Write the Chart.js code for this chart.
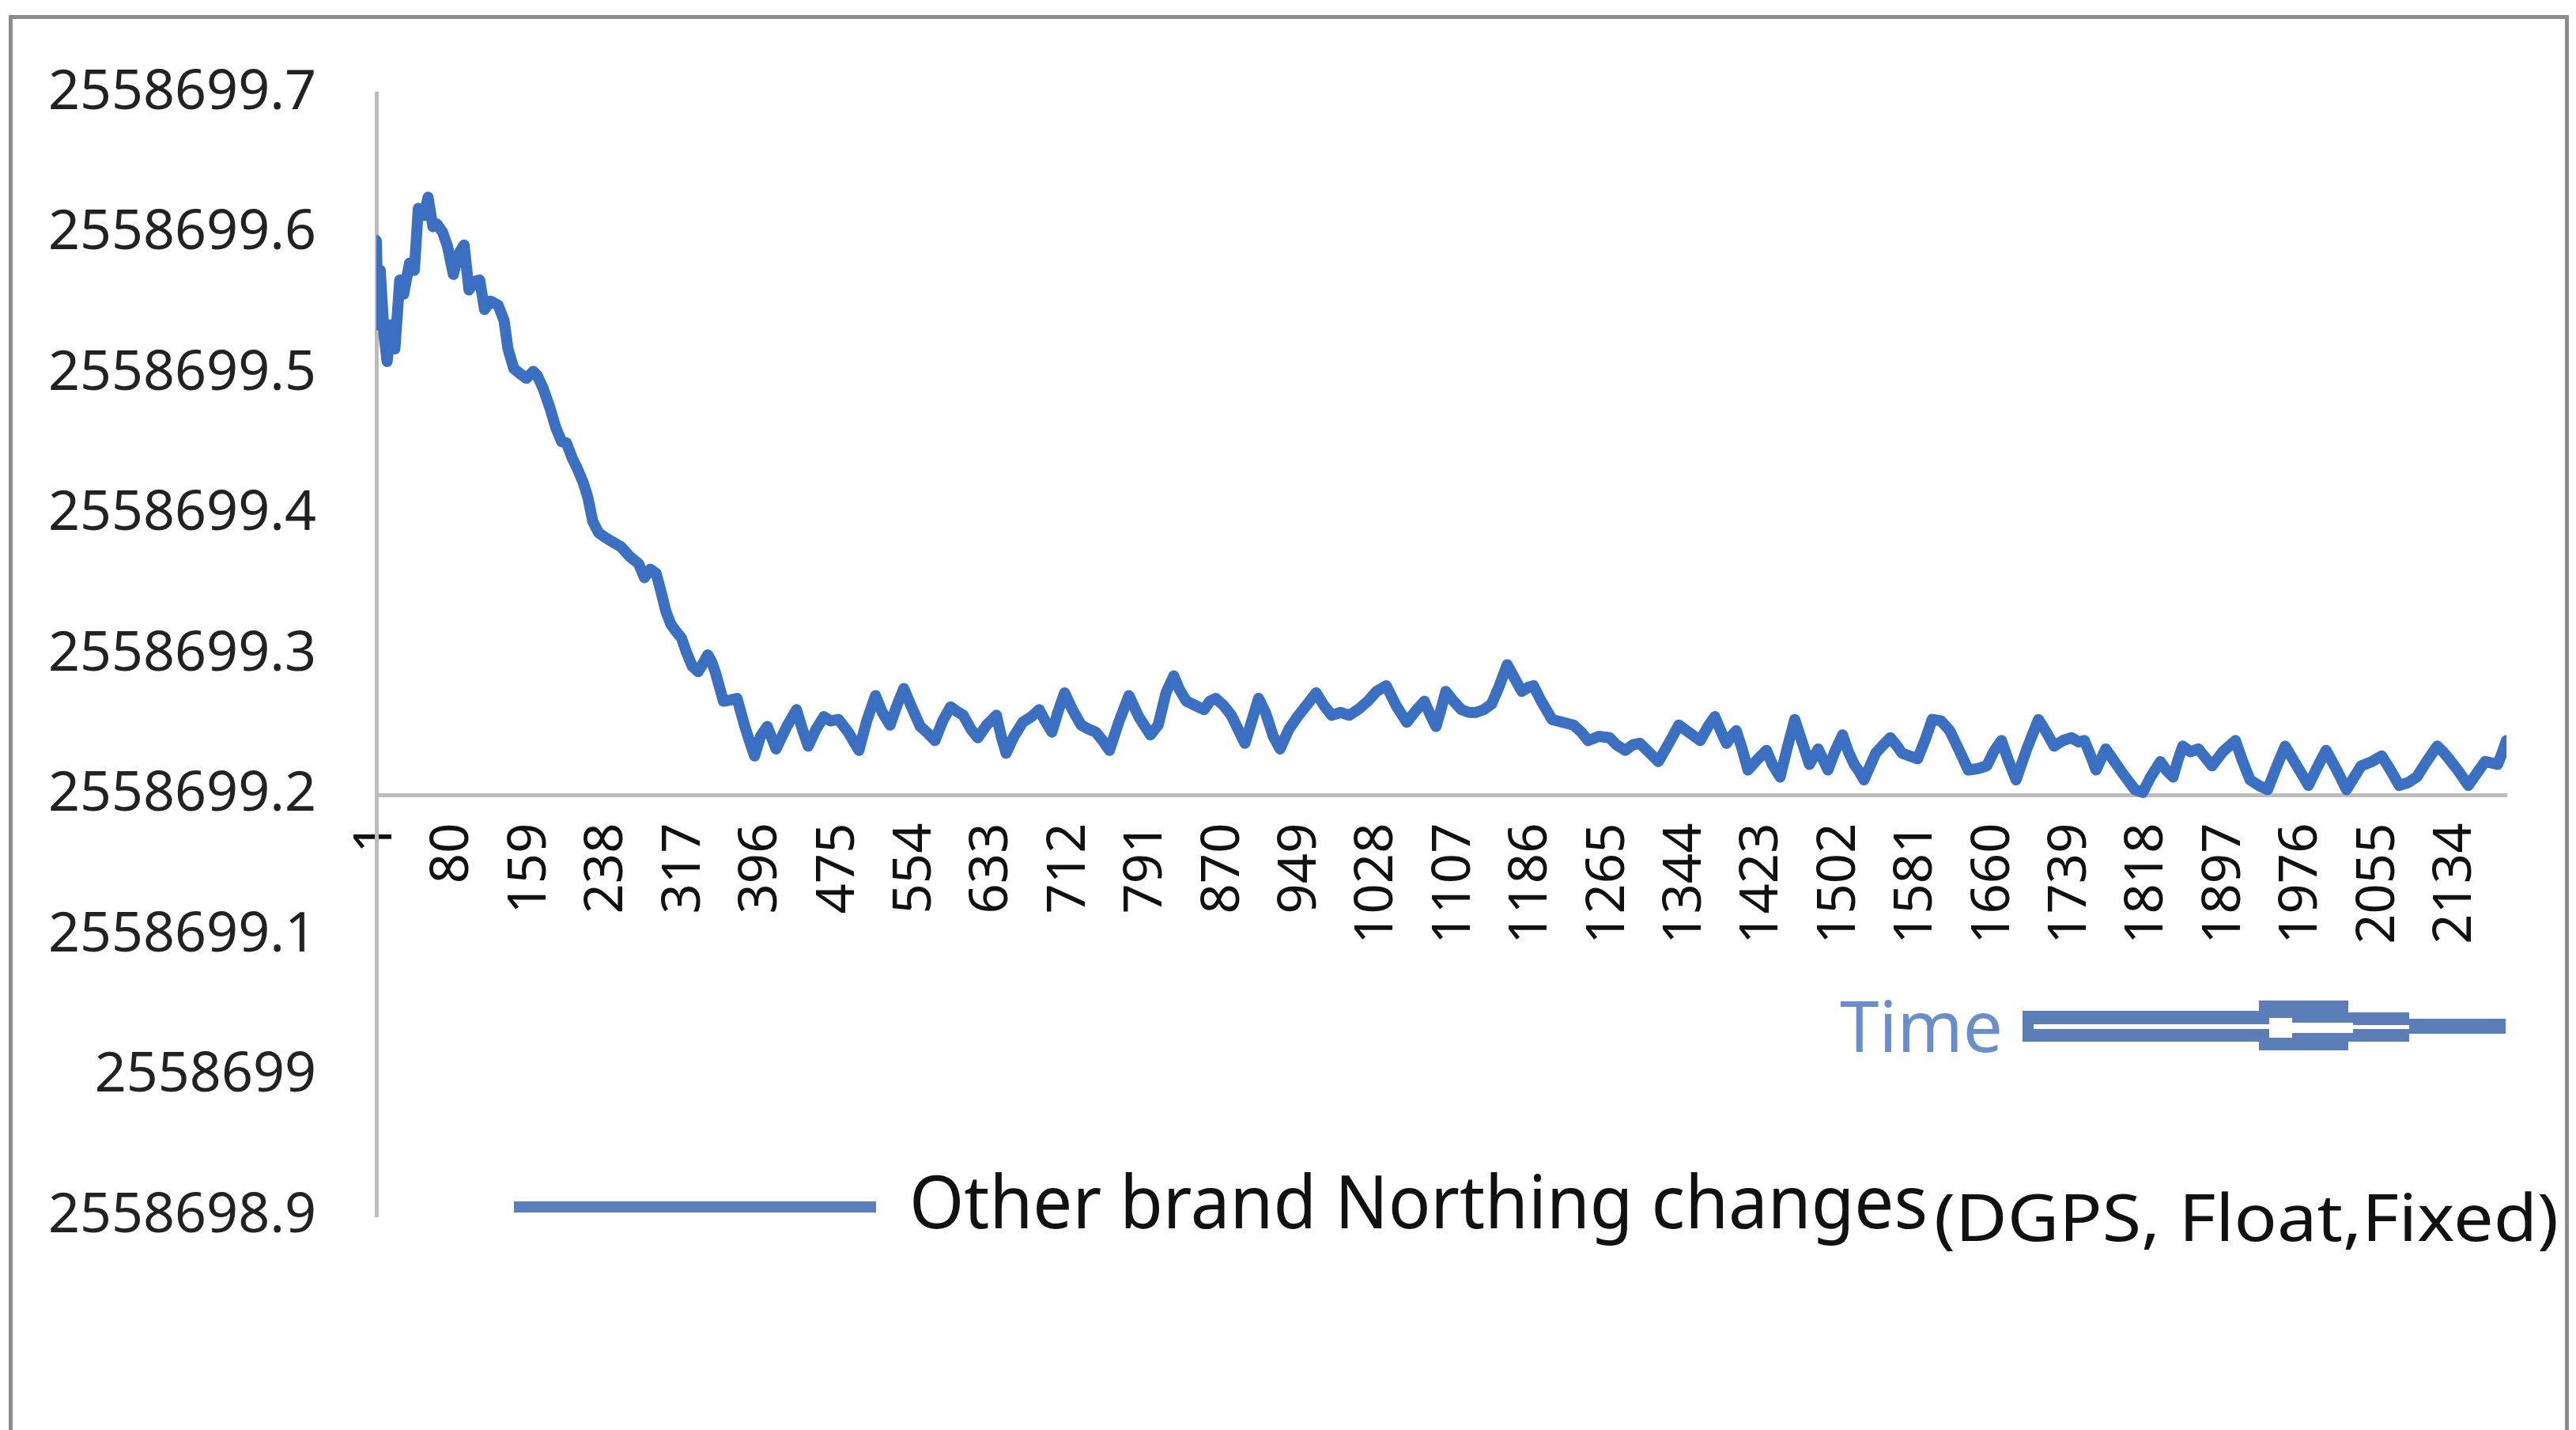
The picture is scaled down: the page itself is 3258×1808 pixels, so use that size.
<!DOCTYPE html>
<html>
<head>
<meta charset="utf-8">
<script src="https://cdn.jsdelivr.net/npm/chart.js@4"></script>
<style>
  html, body { margin: 0; padding: 0; background: #ffffff; }
  #wrap { position: relative; width: 3258px; height: 1808px; overflow: hidden; }
  #c { position: absolute; left: 0; top: 0; }
  #frame { position: absolute; left: 11px; top: 19px; width: 3228px; height: 1784px;
           border: 5px solid #8c8c8c; pointer-events: none; }
</style>
</head>
<body>
<div id="wrap">
  <canvas id="c" width="3258" height="1808"></canvas>
  <div id="frame"></div>
</div>
<script>
// ---------------- data ----------------
const xTickLabels = [1, 80, 159, 238, 317, 396, 475, 554, 633, 712, 791, 870, 949, 1028,
  1107, 1186, 1265, 1344, 1423, 1502, 1581, 1660, 1739, 1818, 1897, 1976, 2055, 2134];

const yTickValues = [2558698.9, 2558699.0, 2558699.1, 2558699.2, 2558699.3,
  2558699.4, 2558699.5, 2558699.6, 2558699.7];
const yTickLabels = ['2558698.9', '2558699', '2558699.1', '2558699.2', '2558699.3',
  '2558699.4', '2558699.5', '2558699.6', '2558699.7'];

const firstSample = 1;
const lastSample = 2186;
const axisCrossValue = 2558699.2;

const legendLabel = 'Other brand Northing changes';
const legendSuffix = '(DGPS, Float,Fixed)';
const timeLabel = 'Time';

const samples = [1,3,5,9,12,16,20,25,29,35,40,44,50,54,59,63,69,74,80,85,91,96,102,107,112,118,126,132,136,142,
149,155,162,166,172,179,185,191,196,202,207,213,218,223,229,235,242,252,261,270,276,282,288,293,298,303,308,314,319,325,
331,337,341,345,349,357,365,371,379,385,389,395,402,411,422,432,438,444,452,460,467,475,485,496,504,513,520,528,535,542,
550,559,567,574,582,590,596,603,611,618,627,637,642,647,655,664,673,681,687,694,700,707,715,724,732,739,746,753,763,773,
783,795,803,811,819,825,832,841,850,856,862,870,878,885,892,899,906,913,921,928,937,947,955,965,973,981,990,999,1008,1018,
1027,1037,1047,1058,1067,1076,1083,1088,1093,1098,1106,1114,1122,1129,1137,1145,1153,1161,1168,1176,1183,1188,1196,1207,1218,1229,1237,1244,1255,1266,
1273,1282,1290,1297,1306,1316,1326,1337,1347,1359,1367,1374,1380,1386,1391,1396,1402,1408,1417,1427,1433,1441,1448,1456,1463,1471,1480,1490,1497,1505,
1511,1517,1522,1527,1534,1539,1547,1554,1561,1566,1574,1582,1590,1597,1606,1615,1624,1634,1644,1653,1660,1668,1675,1683,1694,1706,1714,1722,1731,1740,
1747,1753,1759,1765,1775,1784,1793,1805,1813,1821,1831,1837,1844,1849,1854,1862,1870,1877,1884,1895,1908,1915,1923,1932,1941,1950,1959,1971,1983,1992,
2001,2012,2022,2029,2037,2048,2058,2067,2076,2085,2094,2104,2115,2121,2127,2137,2147,2156,2164,2171,2177,2182,2186];

const northing = [
2558699.595,2558699.535,2558699.574,2558699.527,2558699.509,2558699.535,2558699.518,2558699.567,2558699.557,2558699.579,
2558699.574,2558699.618,2558699.613,2558699.626,2558699.605,2558699.607,2558699.601,2558699.591,2558699.571,2558699.585,
2558699.592,2558699.560,2558699.566,2558699.567,2558699.546,2558699.552,2558699.549,2558699.538,2558699.518,2558699.504,
2558699.500,2558699.497,2558699.502,2558699.499,2558699.490,2558699.476,2558699.462,2558699.452,2558699.451,2558699.440,
2558699.433,2558699.423,2558699.412,2558699.395,2558699.387,2558699.384,2558699.381,2558699.377,2558699.370,2558699.365,
2558699.355,2558699.361,2558699.358,2558699.345,2558699.331,2558699.322,2558699.317,2558699.312,2558699.302,2558699.292,
2558699.288,2558699.295,2558699.300,2558699.295,2558699.287,2558699.267,2558699.268,2558699.269,2558699.249,2558699.236,
2558699.228,2558699.242,2558699.249,2558699.233,2558699.249,2558699.261,2558699.247,2558699.235,2558699.247,2558699.256,
2558699.253,2558699.254,2558699.245,2558699.232,2558699.253,2558699.271,2558699.259,2558699.250,2558699.264,2558699.276,
2558699.263,2558699.249,2558699.244,2558699.239,2558699.253,2558699.263,2558699.260,2558699.257,2558699.247,2558699.241,
2558699.250,2558699.257,2558699.242,2558699.230,2558699.242,2558699.252,2558699.256,2558699.261,2558699.253,2558699.245,
2558699.259,2558699.273,2558699.261,2558699.250,2558699.247,2558699.245,2558699.239,2558699.232,2558699.253,2558699.271,
2558699.256,2558699.243,2558699.250,2558699.273,2558699.285,2558699.275,2558699.267,2558699.264,2558699.261,2558699.267,
2558699.269,2558699.264,2558699.257,2558699.247,2558699.237,2558699.253,2558699.269,2558699.259,2558699.242,2558699.233,
2558699.247,2558699.257,2558699.264,2558699.273,2558699.264,2558699.257,2558699.259,2558699.257,2558699.261,2558699.267,
2558699.274,2558699.278,2558699.264,2558699.252,2558699.260,2558699.267,2558699.256,2558699.249,2558699.261,2558699.274,
2558699.267,2558699.261,2558699.259,2558699.259,2558699.261,2558699.265,2558699.278,2558699.293,2558699.284,2558699.274,
2558699.277,2558699.278,2558699.267,2558699.254,2558699.252,2558699.250,2558699.245,2558699.239,2558699.242,2558699.241,
2558699.236,2558699.232,2558699.236,2558699.237,2558699.231,2558699.224,2558699.236,2558699.250,2558699.245,2558699.239,
2558699.249,2558699.256,2558699.246,2558699.237,2558699.242,2558699.246,2558699.233,2558699.218,2558699.225,2558699.232,
2558699.222,2558699.213,2558699.233,2558699.254,2558699.239,2558699.222,2558699.233,2558699.218,2558699.231,2558699.243,
2558699.231,2558699.222,2558699.217,2558699.211,2558699.222,2558699.230,2558699.236,2558699.241,2558699.235,2558699.230,
2558699.228,2558699.226,2558699.240,2558699.254,2558699.253,2558699.246,2558699.233,2558699.218,2558699.219,2558699.221,
2558699.231,2558699.239,2558699.225,2558699.211,2558699.233,2558699.254,2558699.245,2558699.235,2558699.239,2558699.241,
2558699.238,2558699.239,2558699.229,2558699.218,2558699.233,2558699.224,2558699.215,2558699.204,2558699.202,2558699.213,
2558699.224,2558699.218,2558699.213,2558699.225,2558699.235,2558699.231,2558699.233,2558699.227,2558699.221,2558699.231,
2558699.239,2558699.225,2558699.211,2558699.207,2558699.204,2558699.220,2558699.235,2558699.221,2558699.207,2558699.220,
2558699.232,2558699.218,2558699.204,2558699.212,2558699.221,2558699.224,2558699.228,2558699.218,2558699.207,2558699.209,
2558699.213,2558699.224,2558699.235,2558699.231,2558699.226,2558699.217,2558699.207,2558699.216,2558699.224,2558699.223,
2558699.222,2558699.231,2558699.239];

// ---------------- styles ----------------
const lineColor = '#3a6fc2';
const legendLineColor = '#5a7fbc';
const timeColor = '#6a8ecb';
const arrowColor = '#5b7db8';
const axisColor = '#bcbcbc';
const FONT = '"Noto Sans", "Open Sans", sans-serif';

// decorations: legend (two-part text), "Time" label with its arrow
const decor = {
  id: 'decor',
  afterDraw(chart) {
    const ctx = chart.ctx;
    ctx.save();
    // legend line sample
    ctx.strokeStyle = legendLineColor;
    ctx.lineWidth = 14;
    ctx.lineCap = 'butt';
    ctx.beginPath();
    ctx.moveTo(650, 1526);
    ctx.lineTo(1108, 1526);
    ctx.stroke();
    // legend main text
    ctx.fillStyle = '#111111';
    ctx.textBaseline = 'alphabetic';
    ctx.textAlign = 'left';
    ctx.font = '94px ' + FONT;
    ctx.fillText(legendLabel, 1150, 1553, 1288);
    // legend suffix
    ctx.font = '82px ' + FONT;
    const sw = ctx.measureText(legendSuffix).width;
    ctx.save();
    ctx.translate(2446, 1569);
    ctx.scale(790 / sw, 1);
    ctx.fillText(legendSuffix, 0, 0);
    ctx.restore();
    // Time label
    ctx.fillStyle = timeColor;
    ctx.font = '89px ' + FONT;
    ctx.fillText(timeLabel, 2327, 1330);
    // arrow
    ctx.fillStyle = arrowColor;
    ctx.fillRect(2558, 1278, 299, 39);
    ctx.fillRect(2857, 1265, 113, 63);
    ctx.fillRect(2970, 1280, 77, 37);
    ctx.fillRect(3047, 1288, 122, 19);
    ctx.fillStyle = '#ffffff';
    ctx.fillRect(2572, 1295, 298, 6);
    ctx.fillRect(2870, 1287, 29, 25);
    ctx.fillRect(2899, 1293, 77, 13);
    ctx.fillRect(2976, 1296, 71, 5);
    ctx.restore();
  }
};

new Chart(document.getElementById('c').getContext('2d'), {
  type: 'line',
  data: {
    datasets: [{
      label: legendLabel + legendSuffix,
      data: samples.map((s, i) => ({ x: s, y: northing[i] })),
      borderColor: lineColor,
      backgroundColor: lineColor,
      borderWidth: 14,
      pointRadius: 0,
      tension: 0,
      fill: false,
      borderJoinStyle: 'round',
      borderCapStyle: 'round'
    }]
  },
  options: {
    responsive: false,
    animation: false,
    devicePixelRatio: 1,
    layout: { padding: { left: 0, top: 104, right: 88, bottom: 270 } },
    plugins: { legend: { display: false }, tooltip: { enabled: false } },
    scales: {
      x: {
        type: 'linear',
        min: firstSample,
        max: lastSample,
        position: { y: axisCrossValue },
        grid: { display: false, drawTicks: false },
        border: { display: true, color: axisColor, width: 5 },
        afterBuildTicks: (s) => { s.ticks = xTickLabels.map(v => ({ value: v })); },
        ticks: {
          autoSkip: false, maxRotation: 90, minRotation: 90, padding: 35,
          color: '#111111',
          font: { family: FONT, size: 67 },
          callback: (v) => String(v)
        }
      },
      y: {
        type: 'linear',
        position: 'left',
        min: yTickValues[0],
        max: yTickValues[yTickValues.length - 1],
        grid: { display: false, drawTicks: false },
        border: { display: true, color: axisColor, width: 5 },
        afterBuildTicks: (s) => { s.ticks = yTickValues.map(v => ({ value: v })); },
        afterFit: (s) => { s.width = 476; },
        ticks: {
          padding: 76,
          color: '#222222',
          font: { family: FONT, size: 70 },
          callback: (v, i) => yTickLabels[i]
        }
      }
    }
  },
  plugins: [decor]
});
</script>
</body>
</html>
